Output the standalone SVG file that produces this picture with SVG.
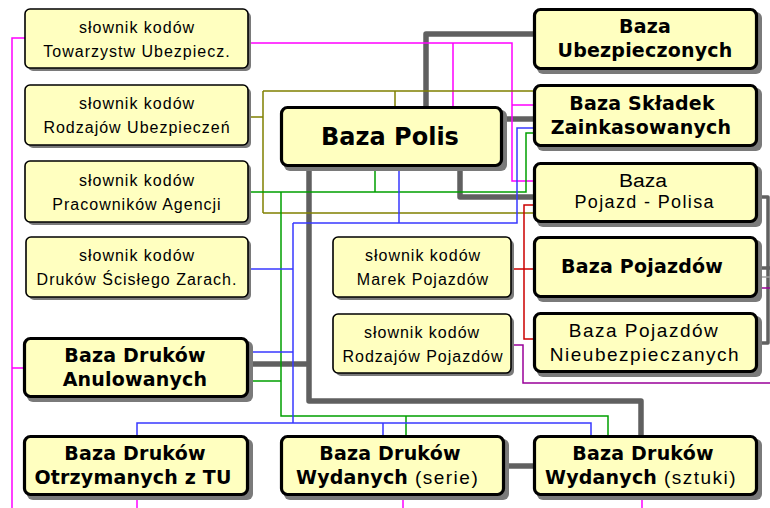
<svg xmlns="http://www.w3.org/2000/svg" width="770" height="508" viewBox="0 0 770 508">
<style>
.bg{fill:#fff}
.sh{fill:#7a7a7a}
.box{fill:#FFFFC0;stroke:#000}
.thin .box{stroke-width:1.6}
.bold .box{stroke-width:3.2}
text{font-family:"Liberation Sans",Arial,sans-serif;fill:#000}
.t{font-size:16px;letter-spacing:1px;text-anchor:middle}
.bt{font-family:"DejaVu Sans",sans-serif;font-size:19px;font-weight:bold;letter-spacing:0.2px;text-anchor:middle}
.rt{font-size:19px;letter-spacing:1.5px;text-anchor:middle}
.st{text-anchor:start}
.nw{font-family:"Liberation Sans",Arial,sans-serif;font-weight:normal;letter-spacing:1.5px}
.c{fill:none;stroke-width:1.5}
.gr{fill:none;stroke:#606060;stroke-width:5.5;stroke-linejoin:round}
.mg{stroke:#FF00FF}
.ol{stroke:#808000}
.gn{stroke:#00A000}
.bl{stroke:#3838FF}
.rd{stroke:#CC0000}
.pu{stroke:#990099}
</style>
<rect class="bg" x="0" y="0" width="770" height="508"/>
<g id="connectors">
  <path class="gr" d="M426,106 V34 H533"/>
  <path class="gr" d="M503,119 H533"/>
  <path class="gr" d="M460,167 V197 H533"/>
  <path class="gr" d="M309,167 V401 H641 V435"/>
  <path class="gr" d="M249,364 H309"/>
  <path class="gr" d="M505,466 H533"/>
  <path class="gr" style="stroke-width:3.5" d="M758,197 H768 V343 H758 M758,268 H772"/>
  <path class="c" style="stroke:#a0a0a0" d="M758,277 H772"/>
  <path class="c mg" d="M25,38 H12 V508 M12,368 H23"/>
  <path class="c mg" d="M248,43 H512 V181 H533 M453,43 V106 M512,105 H533"/>
  <path class="c mg" d="M137,497 V508 M403,497 V508 M642,497 V508"/>
  <path class="c ol" d="M248,117 H263 M263,91 V213 M263,91 H533 M263,213 H533 M395,91 V106"/>
  <path class="c gn" d="M248,192 H526 V133 H533 M375,167 V192 M281,192 V416 H608 V435 M406,416 V435 M249,381 H281"/>
  <path class="c bl" d="M248,269 H293 M293,223 V423 M293,223 H517 V128 H533 M399,167 V223 M249,352 H293 M137,435 V423 H591 V435 M383,423 V435"/>
  <path class="c rd" d="M511,269 H533 M533,205 H524 V339 H533"/>
  <path class="c pu" d="M511,345 H523 V383 H772 M758,288 H772"/>
</g>
<g id="n1" class="thin">
  <rect class="sh" x="28" y="12" width="223" height="59" rx="5"/>
  <rect class="box" x="25" y="9" width="223" height="59" rx="5"/>
  <text class="t" x="137" y="33">słownik kodów</text>
  <text class="t" x="137" y="57">Towarzystw Ubezpiecz.</text>
</g>
<g id="n2" class="thin">
  <rect class="sh" x="28" y="88" width="223" height="60" rx="5"/>
  <rect class="box" x="25" y="85" width="223" height="60" rx="5"/>
  <text class="t" x="137" y="109">słownik kodów</text>
  <text class="t" x="137" y="133">Rodzajów Ubezpieczeń</text>
</g>
<g id="n3" class="thin">
  <rect class="sh" x="28" y="164" width="223" height="61" rx="5"/>
  <rect class="box" x="25" y="161" width="223" height="61" rx="5"/>
  <text class="t" x="137" y="186">słownik kodów</text>
  <text class="t" x="137" y="210">Pracowników Agencji</text>
</g>
<g id="n4" class="thin">
  <rect class="sh" x="29" y="240" width="222" height="60" rx="5"/>
  <rect class="box" x="26" y="237" width="222" height="60" rx="5"/>
  <text class="t" x="137" y="261">słownik kodów</text>
  <text class="t" x="137" y="285">Druków Ścisłego Zarach.</text>
</g>
<g id="n5" class="bold">
  <rect class="sh" x="27" y="341" width="226" height="61" rx="6"/>
  <rect class="box" x="24.5" y="338.5" width="223" height="58" rx="6"/>
  <text class="bt" x="135" y="362">Baza Druków</text>
  <text class="bt" x="135" y="385.5">Anulowanych</text>
</g>
<g id="n6" class="bold">
  <rect class="sh" x="27" y="439" width="226" height="61" rx="6"/>
  <rect class="box" x="24.5" y="436.5" width="223" height="58" rx="6"/>
  <text class="bt" x="135" y="460">Baza Druków</text>
  <text class="bt" x="133" y="484">Otrzymanych z TU</text>
</g>
<g id="n7" class="bold">
  <rect class="sh" x="284" y="110" width="223" height="61" rx="6"/>
  <rect class="box" x="281.5" y="107.5" width="220" height="58" rx="6"/>
  <text class="bt" style="font-size:24px;letter-spacing:0" x="390" y="145">Baza Polis</text>
</g>
<g id="n8" class="bold">
  <rect class="sh" x="537" y="12" width="225" height="62" rx="6"/>
  <rect class="box" x="534.5" y="9.5" width="222" height="59" rx="6"/>
  <text class="bt" x="645" y="33">Baza</text>
  <text class="bt" x="645" y="57">Ubezpieczonych</text>
</g>
<g id="n9" class="bold">
  <rect class="sh" x="537" y="88" width="225" height="63" rx="6"/>
  <rect class="box" x="534.5" y="85.5" width="222" height="60" rx="6"/>
  <text class="bt" x="642" y="110">Baza Składek</text>
  <text class="bt" x="641" y="133.5">Zainkasowanych</text>
</g>
<g id="n10" class="bold">
  <rect class="sh" x="537" y="166" width="225" height="61" rx="6"/>
  <rect class="box" x="534.5" y="163.5" width="222" height="58" rx="6"/>
  <text class="rt" style="font-size:18px;letter-spacing:0" x="643" y="186.5" textLength="48" lengthAdjust="spacingAndGlyphs">Baza</text>
  <text class="rt" style="font-size:18px;letter-spacing:0" x="644" y="207.5" textLength="139" lengthAdjust="spacing">Pojazd - Polisa</text>
</g>
<g id="n11" class="bold">
  <rect class="sh" x="537" y="240" width="225" height="62" rx="6"/>
  <rect class="box" x="534.5" y="237.5" width="222" height="59" rx="6"/>
  <text class="bt" x="642" y="273">Baza Pojazdów</text>
</g>
<g id="n12" class="bold">
  <rect class="sh" x="537" y="316" width="225" height="61" rx="6"/>
  <rect class="box" x="534.5" y="313.5" width="222" height="58" rx="6"/>
  <text class="rt" x="644" y="337">Baza Pojazdów</text>
  <text class="rt" x="645" y="361">Nieubezpieczanych</text>
</g>
<g id="n13" class="thin">
  <rect class="sh" x="336" y="240" width="178" height="60" rx="5"/>
  <rect class="box" x="333" y="237" width="178" height="60" rx="5"/>
  <text class="t" x="423" y="261">słownik kodów</text>
  <text class="t" x="423" y="285">Marek Pojazdów</text>
</g>
<g id="n14" class="thin">
  <rect class="sh" x="336" y="317" width="178" height="59" rx="5"/>
  <rect class="box" x="333" y="314" width="178" height="59" rx="5"/>
  <text class="t" x="422" y="338">słownik kodów</text>
  <text class="t" x="423" y="362">Rodzajów Pojazdów</text>
</g>
<g id="n15" class="bold">
  <rect class="sh" x="284" y="439" width="225" height="61" rx="6"/>
  <rect class="box" x="281.5" y="436.5" width="222" height="58" rx="6"/>
  <text class="bt" x="390" y="460">Baza Druków</text>
  <text class="bt st" x="296" y="484">Wydanych <tspan class="nw">(serie)</tspan></text>
</g>
<g id="n16" class="bold">
  <rect class="sh" x="537" y="439" width="225" height="61" rx="6"/>
  <rect class="box" x="534.5" y="436.5" width="222" height="58" rx="6"/>
  <text class="bt" x="643" y="460">Baza Druków</text>
  <text class="bt st" x="545" y="484">Wydanych <tspan class="nw">(sztuki)</tspan></text>
</g>
</svg>
